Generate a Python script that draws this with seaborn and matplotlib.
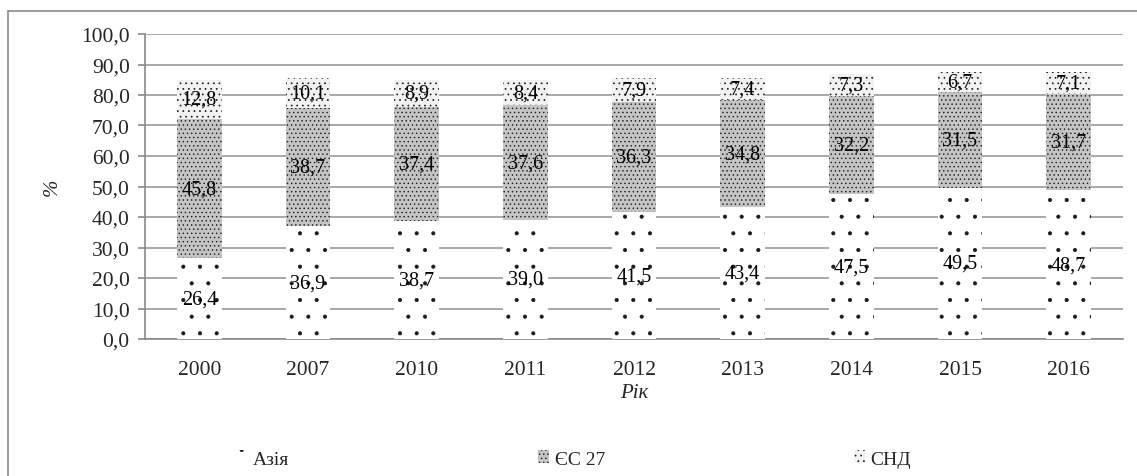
import numpy as np
import pandas as pd
import matplotlib.pyplot as plt
import seaborn as sns
from matplotlib.lines import Line2D
from matplotlib.patches import Patch

# Дані
years = ["2000", "2007", "2010", "2011", "2012", "2013", "2014", "2015", "2016"]
asia = [26.4, 36.9, 38.7, 39.0, 41.5, 43.4, 47.5, 49.5, 48.7]
eu27 = [45.8, 38.7, 37.4, 37.6, 36.3, 34.8, 32.2, 31.5, 31.7]
cis = [12.8, 10.1, 8.9, 8.4, 7.9, 7.4, 7.3, 6.7, 7.1]
series_names = ["Азія", "ЄС 27", "СНД"]

df = pd.DataFrame({"year": years, "Азія": asia, "ЄС 27": eu27, "СНД": cis})

sns.set_style("white")
plt.rcParams["font.family"] = ["Liberation Serif", "DejaVu Serif"]
plt.rcParams["hatch.linewidth"] = 0.5

fig = plt.figure(figsize=(11.37, 4.77), dpi=100)
ax = fig.add_axes([145 / 1137, 1 - 340 / 477, 978 / 1137, 305 / 477])

hatches = [".", "....", "..."]
hatch_cols = ["#1a1a1a", "#1a1a1a", "#1a1a1a"]
face_cols = ["white", "#c4c4c4", "#f2f2f2"]
bottom = np.zeros(len(years))
for name, h, hc, fc in zip(series_names, hatches, hatch_cols, face_cols):
    sns.barplot(data=df, x="year", y=name, ax=ax, color=fc, saturation=1,
                width=0.41, bottom=bottom, hatch=h, edgecolor=hc, linewidth=0,
                zorder=3)
    bottom = bottom + df[name].values

# підписи значень
bottom = np.zeros(len(years))
for name in series_names:
    vals = df[name].values
    for i, v in enumerate(vals):
        ax.text(i, bottom[i] + v / 2, f"{v:.1f}".replace(".", ","),
                ha="center", va="center", fontsize=14.5, zorder=5,
                color="black")
    bottom = bottom + vals

ax.set_ylim(0, 100)
ax.set_xlim(-0.5, len(years) - 0.5)
ax.set_yticks(np.arange(0, 101, 10))
ax.set_yticklabels([f"{t:.1f}".replace(".", ",") for t in np.arange(0, 101, 10)], fontsize=15.5)
ax.yaxis.grid(True, color="#9a9a9a", linewidth=1.2, zorder=0)
ax.set_axisbelow(True)
ax.set_xticks(range(len(years)))
ax.set_xticklabels(years, fontsize=15.5)
ax.set_xticks(np.arange(-0.5, len(years), 1), minor=True)
ax.tick_params(axis="x", which="major", length=0, pad=15)
ax.tick_params(axis="x", which="minor", length=5, color="#8a8a8a", width=1.2)
ax.tick_params(axis="y", length=5, color="#8a8a8a", width=1.2, pad=6, left=True)
for s in ["top", "right"]:
    ax.spines[s].set_visible(False)
for s in ["left", "bottom"]:
    ax.spines[s].set_color("#8a8a8a")
    ax.spines[s].set_linewidth(1.2)

ax.set_xlabel("Рік", fontsize=15, style="italic", labelpad=3)
ax.set_ylabel("%", fontsize=15, style="italic", labelpad=14)

handles = [Patch(facecolor=fc, hatch=h, edgecolor=hc, linewidth=0)
           for h, hc, fc in zip(hatches, hatch_cols, face_cols)]
fig.legend(handles, series_names, loc="center", bbox_to_anchor=(574 / 1137, 1 - 460 / 477),
           ncol=3, frameon=False, fontsize=14, handlelength=0.55, handleheight=0.6,
           handletextpad=0.3, columnspacing=12.8)

# рамка області діаграми
fig.add_artist(Line2D([8 / 1137, 1.0], [1 - 12 / 477] * 2, color="#8a8a8a", lw=1.2,
                      transform=fig.transFigure))
fig.add_artist(Line2D([8 / 1137] * 2, [0, 1 - 12 / 477], color="#8a8a8a", lw=1.2,
                      transform=fig.transFigure))

fig.savefig("out.png", dpi=100)
